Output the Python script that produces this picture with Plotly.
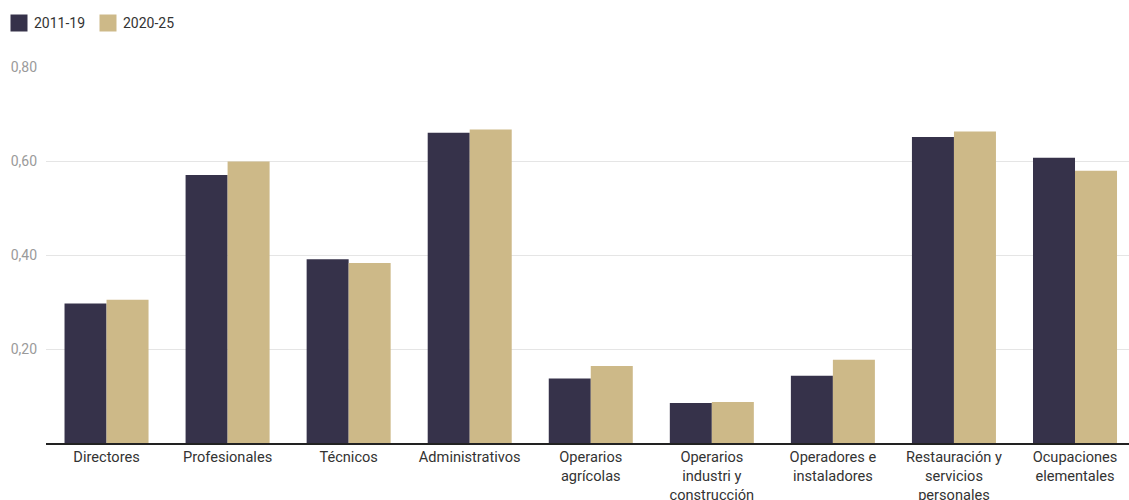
import plotly.graph_objects as go

categories = [
    "Directores",
    "Profesionales",
    "Técnicos",
    "Administrativos",
    "Operarios<br>agrícolas",
    "Operarios<br>industri y<br>construcción",
    "Operadores e<br>instaladores",
    "Restauración y<br>servicios<br>personales",
    "Ocupaciones<br>elementales",
]
series_names = ["2011-19", "2020-25"]
serie_2011_19 = [0.297, 0.570, 0.391, 0.660, 0.137, 0.085, 0.143, 0.651, 0.607]
serie_2020_25 = [0.305, 0.599, 0.383, 0.667, 0.164, 0.087, 0.177, 0.663, 0.579]
y_ticks = [0.2, 0.4, 0.6, 0.8]

DARK = "#36324A"
TAN = "#CDB988"
FONT = "Roboto, 'Noto Sans', sans-serif"

W, H = 1129, 500
ML, MR, MT, MB = 46, 0, 67, 57
PW, PH = W - ML - MR, H - MT - MB


def px_x(px):
    return (px - ML) / PW


def px_y(py):
    return 1 - (py - MT) / PH


fig = go.Figure()
for name, vals, color in zip(series_names, [serie_2011_19, serie_2020_25], [DARK, TAN]):
    fig.add_trace(go.Bar(
        x=categories, y=vals, name=name, marker_color=color,
        marker_line_width=0, showlegend=False,
    ))

# Legend drawn as swatches + labels along the top-left edge
swatch_left = [10.5, 99.5]
for left, name, color in zip(swatch_left, series_names, [DARK, TAN]):
    fig.add_shape(
        type="rect", xref="paper", yref="paper",
        x0=px_x(left), x1=px_x(left + 17), y0=px_y(31.5), y1=px_y(14.5),
        fillcolor=color, line_width=0, layer="above",
    )
    fig.add_annotation(
        text=name, xref="paper", yref="paper",
        x=px_x(left + 21), y=px_y(23), xanchor="left", yanchor="middle",
        showarrow=False, font=dict(size=14, color="#333333"),
    )

fig.update_layout(
    width=W, height=H,
    margin=dict(l=ML, r=MR, t=MT, b=MB, autoexpand=False),
    paper_bgcolor="white", plot_bgcolor="white",
    barmode="group", bargap=0.306, bargroupgap=0,
    separators=",.",
    showlegend=False,
    font=dict(family=FONT, size=14, color="#333333"),
    xaxis=dict(
        range=[-0.5, 8.446], showgrid=False, showline=True, automargin=False,
        linecolor="#222222", linewidth=1.5, ticks="",
        tickfont=dict(size=14.6, color="#333333"),
    ),
    yaxis=dict(
        range=[0, 0.8], tickvals=y_ticks, tickformat=".2f", automargin=False,
        showgrid=True, gridcolor="#E5E5E5", gridwidth=1,
        zeroline=False, showline=False, ticks="",
        tickfont=dict(size=14, color="#9A9A9A"), ticklabelstandoff=8,
    ),
)

fig.write_html("out.html")
